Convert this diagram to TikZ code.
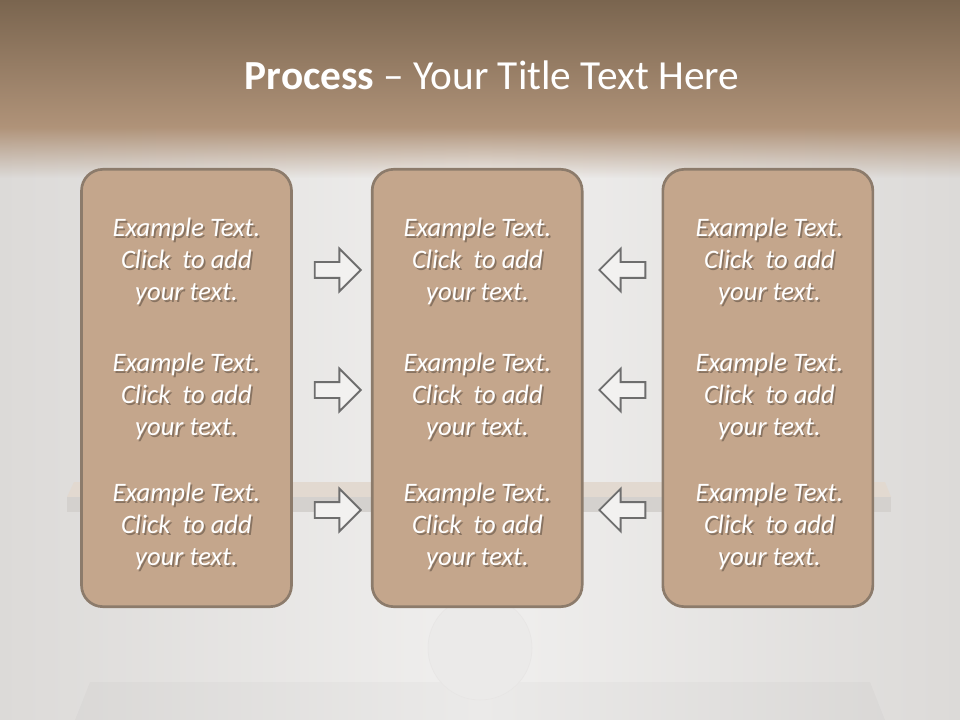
\documentclass[tikz,border=0pt]{standalone}
\usepackage{fontspec}
\setmainfont{Carlito}
\usetikzlibrary{positioning, shapes.arrows, fadings}
\definecolor{boxfill}{HTML}{C4A68C}
\definecolor{boxline}{HTML}{8C7B6B}
\definecolor{arrowline}{HTML}{6E6E6E}
\definecolor{arrowfill}{HTML}{F2F1F0}
\definecolor{bandtop}{HTML}{7A654F}
\definecolor{bandbot}{HTML}{B09379}
\definecolor{wall}{HTML}{E9E7E5}
\definecolor{wallmid}{HTML}{F0EFEE}
\definecolor{walledge}{HTML}{DCDAD8}
\definecolor{plank}{HTML}{E2D9D0}
\definecolor{plankedge}{HTML}{D4D1CE}
\tikzset{
  panel/.style={draw=boxline, line width=2pt, fill=boxfill, rounded corners=16pt,
    minimum width=157.5pt, minimum height=328pt},
  cardtext/.style={text=white, font=\fontsize{20}{24}\selectfont\itshape, align=center},
  cardshadow/.style={cardtext, text=black, opacity=0.3, xshift=1.3pt, yshift=-1.5pt},
  blockarrow/.style={single arrow, draw=arrowline, fill=arrowfill, line width=1.4pt,
    inner xsep=0pt, inner ysep=5.25pt, minimum height=34.5pt,
    single arrow head extend=10pt, single arrow tip angle=90, anchor=tip},
  toright/.style={blockarrow},
  toleft/.style={blockarrow, shape border rotate=180},
  title/.style={text=white, font=\fontsize{31}{37}\selectfont},
}
\newcommand{\clicktext}{Example Text.\\Click\ \ to add\\your text.}
\newcommand{\card}[2]{%
  \node[cardshadow] at (#2) {\clicktext};
  \node[cardtext] (#1) at (#2) {\clicktext};}

\begin{document}
\begin{tikzpicture}[x=0.75pt, y=-0.75pt]
    \useasboundingbox (0,0) rectangle (960,720);
    % backdrop
    \shade[left color=walledge, right color=walledge, middle color=wallmid] (0,0) rectangle (960,720);
    \fill[black, opacity=0.02] (90,682) -- (870,682) -- (885,720) -- (75,720) -- cycle;
    \fill[plank] (74,482) -- (885,482) -- (891,497) -- (67,497) -- cycle;
    \fill[plankedge] (67,497) rectangle (891,512);
    \draw[wallmid!96!black, fill=wallmid!98!black] (480,648) circle (52);
    \shade[top color=bandtop, bottom color=bandbot] (0,0) rectangle (960,128);
    \fill[bandbot, path fading=south] (0,127) rectangle (960,178);

    \node[title] (title) at (492,75) {\textbf{Process} – Your Title Text Here};

    % three panels
    \node[panel] (left) at (186.5,388) {};
    \node[panel, right=58.5pt of left] (middle) {};
    \node[panel, right=58.5pt of middle] (right) {};

    \card{left1}{186.5,261}
    \card{left2}{186.5,396}
    \card{left3}{186.5,526}
    \card{middle1}{477.5,261}
    \card{middle2}{477.5,396}
    \card{middle3}{477.5,526}
    \card{right1}{769.5,261}
    \card{right2}{769.5,396}
    \card{right3}{769.5,526}

    % arrows into the middle
    \node[toright] (inA) at (362,270) {};
    \node[toright] (inB) at (362,390) {};
    \node[toright] (inC) at (362,510) {};
    \node[toleft] (inD) at (598,270) {};
    \node[toleft] (inE) at (598,390) {};
    \node[toleft] (inF) at (598,510) {};
\end{tikzpicture}
\end{document}
